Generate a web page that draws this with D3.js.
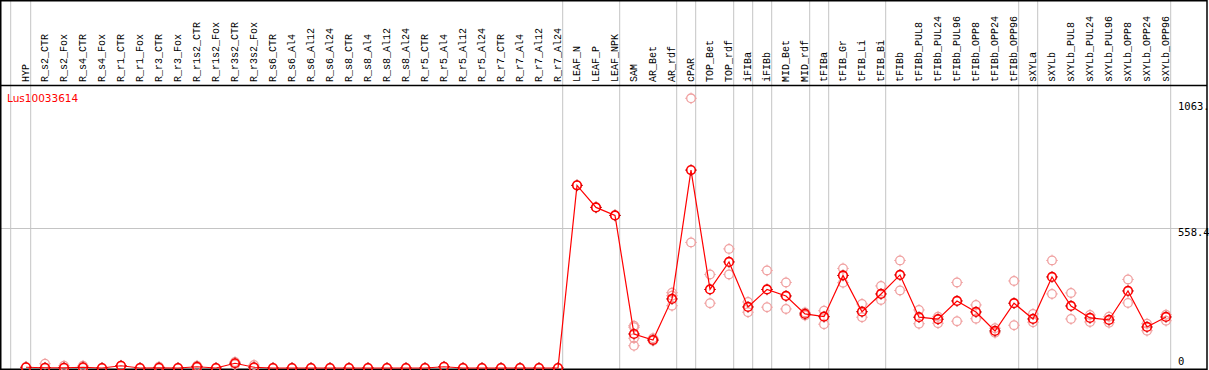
<!DOCTYPE html>
<html>
<head>
<meta charset="utf-8">
<script src="https://cdn.jsdelivr.net/npm/d3@7"></script>
<style>
  body { margin: 0; background: #fff; }
  svg { display: block; }
</style>
</head>
<body>
<svg id="chart" width="1209" height="370"></svg>
<script>
var width = 1209,
  height = 370;

// column names
var samples = ["HYP", "R_s2_CTR", "R_s2_Fox", "R_s4_CTR", "R_s4_Fox", "R_r1_CTR", "R_r1_Fox",
  "R_r3_CTR", "R_r3_Fox", "R_r1s2_CTR", "R_r1s2_Fox", "R_r3s2_CTR", "R_r3s2_Fox", "R_s6_CTR",
  "R_s6_Al4", "R_s6_Al12", "R_s6_Al24", "R_s8_CTR", "R_s8_Al4", "R_s8_Al12", "R_s8_Al24",
  "R_r5_CTR", "R_r5_Al4", "R_r5_Al12", "R_r5_Al24", "R_r7_CTR", "R_r7_Al4", "R_r7_Al12",
  "R_r7_Al24", "LEAF_N", "LEAF_P", "LEAF_NPK", "SAM", "AR_Bet", "AR_rdf", "cPAR", "TOP_Bet",
  "TOP_rdf", "iFIBa", "iFIBb", "MID_Bet", "MID_rdf", "tFIBa", "tFIB_Gr", "tFIB_Li", "tFIB_Bi",
  "tFIBb", "tFIBb_PUL8", "tFIBb_PUL24", "tFIBb_PUL96", "tFIBb_OPP8", "tFIBb_OPP24",
  "tFIBb_OPP96", "sXYLa", "sXYLb", "sXYLb_PUL8", "sXYLb_PUL24", "sXYLb_PUL96", "sXYLb_OPP8",
  "sXYLb_OPP24", "sXYLb_OPP96"];

// last sample of each tissue group (a grey separator follows it)
var groupEnds = ["HYP", "R_r7_Al24", "LEAF_NPK", "AR_rdf", "cPAR", "TOP_rdf", "iFIBa", "iFIBb",
  "MID_rdf", "tFIBa", "tFIB_Bi", "tFIBb_OPP96", "sXYLa", "sXYLb_OPP96"];

// mean expression per sample
var means = [3, 1, 1, 3, 0, 9, 0, 1, 0, 5, 0, 19, 3, 0,
  0, 0, 0, 0, 0, 0, 0, 0, 5, 0, 0, 0, 0, 0, 0,
  730, 642, 610, 136, 112, 276, 791, 314, 424, 244, 314, 288, 216, 205, 370, 225, 296,
  372, 203, 195, 268, 224, 148, 259, 196, 364, 248, 200, 192, 308, 164, 204];

// replicate values per sample
var replicates = [[3], [17, 0], [9, 0], [9, 0], [0], [9], [0], [5, 0], [0], [9, 2], [0], [24, 14], [12, 0], [0],
  [0], [0], [0], [0], [0], [0], [0], [0], [5], [0], [0], [0], [0], [0], [0],
  [730], [642], [610], [169, 163, 119, 89], [119, 109], [301, 289, 249], [1078, 502],
  [374, 259], [476, 374], [264, 223], [390, 243], [342, 236], [222, 210], [229, 175],
  [398, 341], [256, 203], [328, 272], [430, 310], [232, 177], [205, 179], [342, 187],
  [252, 197], [159, 141], [348, 171], [216, 183], [430, 296], [300, 196], [212, 184],
  [205, 181], [354, 260], [177, 149], [213, 189]];

var yTicks = [0, 558.4, 1063];
var yTickLabels = ["0", "558.4", "1063."];
var geneName = "Lus10033614";

var svg = d3.select("#chart");

var x = d3.scaleBand().domain(samples).range([16.5, 16.5 + 19 * samples.length]);
var cx = function (s) { return x(s) + x.bandwidth() / 2; };
var y = d3.scaleLinear().domain([0, 1116.8]).range([368, 88.6]);

// grey separators
var seps = [cx(samples[0]) - 15.3].concat(groupEnds.map(function (s) { return cx(s) + 4.7; }));
svg.append("g")
  .selectAll("line")
  .data(seps)
  .enter()
  .append("line")
  .attr("x1", function (d) { return d; })
  .attr("x2", function (d) { return d; })
  .attr("y1", 0)
  .attr("y2", height)
  .attr("stroke", "#c4c4c4")
  .attr("stroke-width", 1);

// mid grid line
svg.append("line")
  .attr("x1", 0).attr("x2", 1207)
  .attr("y1", Math.round(y(558.4)) + 0.5).attr("y2", Math.round(y(558.4)) + 0.5)
  .attr("stroke", "#c4c4c4");

// frame
svg.append("g")
  .attr("stroke", "#000")
  .attr("stroke-width", 1.5)
  .selectAll("line")
  .data([[0, 0.75, 1207, 0.75], [0.75, 0, 0.75, 370], [1207, 0, 1207, 370], [0, 85.5, 1207, 85.5], [0, 369.25, 1207, 369.25]])
  .enter()
  .append("line")
  .attr("x1", function (d) { return d[0]; })
  .attr("y1", function (d) { return d[1]; })
  .attr("x2", function (d) { return d[2]; })
  .attr("y2", function (d) { return d[3]; });

// column labels
svg.append("g")
  .selectAll("text")
  .data(samples)
  .enter()
  .append("text")
  .attr("transform", function (d) { return "translate(" + (cx(d) + 3) + ",82) rotate(-90)"; })
  .attr("font-family", "Liberation Mono, monospace")
  .attr("font-size", "10px")
  .attr("fill", "#000")
  .text(function (d) { return d; });

// y labels
svg.append("g")
  .selectAll("text")
  .data(yTicks)
  .enter()
  .append("text")
  .attr("x", 1178)
  .attr("y", function (d, i) { return i === 0 ? y(d) - 3 : y(d) + 8; })
  .attr("font-family", "DejaVu Sans Mono, monospace")
  .attr("font-size", "10.5px")
  .attr("fill", "#000")
  .text(function (d, i) { return yTickLabels[i]; });

svg.append("text")
  .attr("x", 7)
  .attr("y", 102)
  .attr("font-family", "DejaVu Sans, sans-serif")
  .attr("font-size", "10.5px")
  .attr("fill", "red")
  .text(geneName);

// circle marker with four little ticks
function marker(g, color, tickColor, sw) {
  g.append("circle")
    .attr("r", 4.3)
    .attr("fill", "none")
    .attr("stroke", color)
    .attr("stroke-width", sw);
  [[0, -4.3, 0, -5.8], [0, 4.3, 0, 5.8], [-4.3, 0, -5.8, 0], [4.3, 0, 5.8, 0]].forEach(function (t) {
    g.append("line")
      .attr("x1", t[0]).attr("y1", t[1]).attr("x2", t[2]).attr("y2", t[3])
      .attr("stroke", tickColor)
      .attr("stroke-width", 1);
  });
}

// replicates
var repPts = [];
samples.forEach(function (s, i) {
  replicates[i].forEach(function (v) { repPts.push({ s: s, v: v }); });
});
svg.append("g")
  .selectAll("g")
  .data(repPts)
  .enter()
  .append("g")
  .attr("transform", function (d) { return "translate(" + cx(d.s) + "," + y(d.v) + ")"; })
  .each(function () { marker(d3.select(this), "#f0a0a0", "#f0a0a0", 1.3); });

// mean line
var line = d3.line()
  .x(function (d, i) { return cx(samples[i]); })
  .y(function (d) { return y(d); });
svg.append("path")
  .datum(means)
  .attr("d", line)
  .attr("fill", "none")
  .attr("stroke", "red")
  .attr("stroke-width", 1.2);

// means
svg.append("g")
  .selectAll("g")
  .data(means)
  .enter()
  .append("g")
  .attr("transform", function (d, i) { return "translate(" + cx(samples[i]) + "," + y(d) + ")"; })
  .each(function () { marker(d3.select(this), "red", "#a00", 1.6); });
</script>
</body>
</html>
